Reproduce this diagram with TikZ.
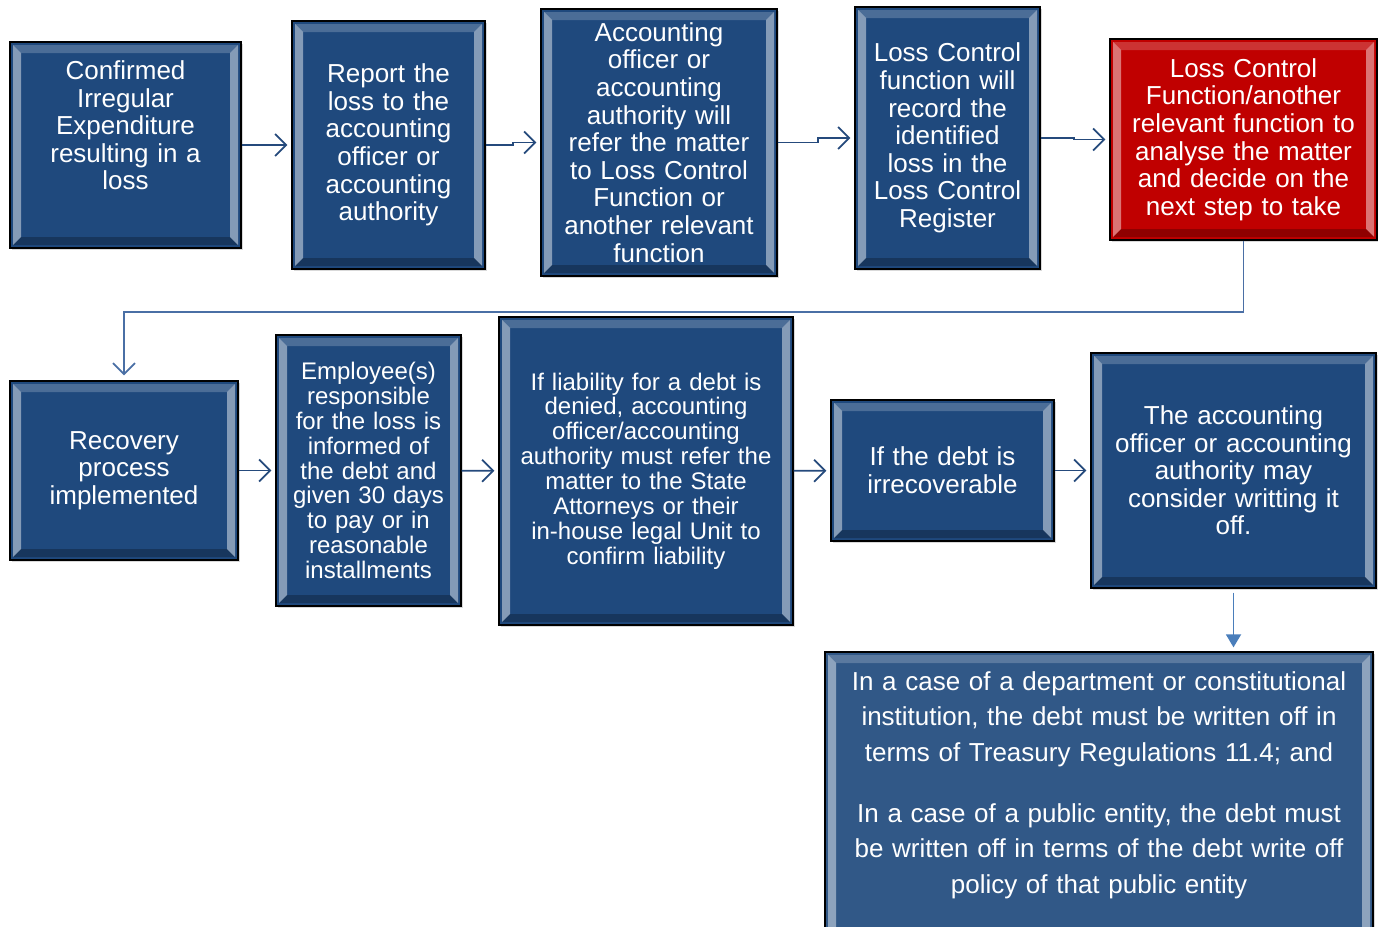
\documentclass[tikz,border=0pt]{standalone}
\usepackage{fontspec}
\setmainfont{Liberation Sans}
\usetikzlibrary{arrows.meta,shadows}
\definecolor{boxblue}{HTML}{1F497D}
\definecolor{boxred}{HTML}{C00000}
\definecolor{arrowblue}{HTML}{254A7C}
\definecolor{backblue}{HTML}{4A6FA5}
\definecolor{downblue}{HTML}{4A7EBB}

\begin{document}
\begin{tikzpicture}[x=1pt,y=-1pt]
\tikzstyle{stepbox}=[draw=black, line width=1.3pt, fill=boxblue, text=white, align=center, inner sep=0pt,
  font=\fontsize{26}{27.6}\selectfont,
  drop shadow={shadow xshift=2pt, shadow yshift=-2pt, opacity=.3},
  path picture={
    \path (path picture bounding box.south west) coordinate (sw)
          (path picture bounding box.north east) coordinate (ne)
          (sw |- ne) coordinate (nw) (sw -| ne) coordinate (se);
    \fill[white, opacity=.45] ([shift={(3pt,3pt)}]sw) -- ([shift={(11pt,11pt)}]sw)
      -- ([shift={(11pt,-11pt)}]nw) -- ([shift={(3pt,-3pt)}]nw) -- cycle;
    \fill[white, opacity=.45] ([shift={(-3pt,3pt)}]se) -- ([shift={(-11pt,11pt)}]se)
      -- ([shift={(-11pt,-11pt)}]ne) -- ([shift={(-3pt,-3pt)}]ne) -- cycle;
    \fill[white, opacity=.2] ([shift={(3pt,-3pt)}]nw) -- ([shift={(11pt,-11pt)}]nw)
      -- ([shift={(-11pt,-11pt)}]ne) -- ([shift={(-3pt,-3pt)}]ne) -- cycle;
    \fill[black, opacity=.25] ([shift={(3pt,3pt)}]sw) -- ([shift={(11pt,11pt)}]sw)
      -- ([shift={(-11pt,11pt)}]se) -- ([shift={(-3pt,3pt)}]se) -- cycle;
  }]
\tikzstyle{small}=[font=\fontsize{24}{24.9}\selectfont]
\tikzstyle{stepline}=[draw=arrowblue, line width=1.8pt, -{Straight Barb[length=11pt,width=22pt,line width=1.8pt]}, shorten >=4pt]
\tikzstyle{backline}=[draw=backblue, line width=1.8pt, -{Straight Barb[length=11pt,width=22pt,line width=1.8pt]}, shorten >=5pt]

\useasboundingbox (0,0) rectangle (1378,926);

% top row
\draw (125.5,145) node[stepbox, minimum width=231, minimum height=206, text width=220] (loss)
  {Confirmed\\Irregular\\Expenditure\\resulting in a\\loss\\[12pt]\mbox{}};
\draw (388.5,145) node[stepbox, minimum width=193, minimum height=248, text width=183] (report)
  {Report the\\loss to the\\accounting\\officer or\\accounting\\authority};
\draw (659,142.5) node[stepbox, minimum width=236, minimum height=267, text width=226] (refer)
  {Accounting\\officer or\\accounting\\authority will\\refer the matter\\to Loss Control\\Function or\\another relevant\\function};
\draw (947.5,138) node[stepbox, minimum width=185, minimum height=262, text width=178] (record)
  {Loss Control\\function will\\record the\\identified\\loss in the\\Loss Control\\Register};
\draw (1243.5,139.5) node[stepbox, fill=boxred, minimum width=267, minimum height=201, text width=257] (analyse)
  {Loss Control\\Function/another\\relevant function to\\analyse the matter\\and decide on the\\next step to take};

% second row
\draw (124,470.5) node[stepbox, minimum width=228, minimum height=179, text width=218] (recover)
  {Recovery\\process\\implemented};
\draw (368.5,470.5) node[stepbox, small, minimum width=185, minimum height=271, text width=178] (inform)
  {Employee(s)\\responsible\\for the loss is\\informed of\\the debt and\\given 30 days\\to pay or in\\reasonable\\installments};
\draw (646,471) node[stepbox, small, minimum width=294, minimum height=308, text width=284] (deny)
  {If liability for a debt is\\denied, accounting\\officer/accounting\\authority must refer the\\matter to the State\\Attorneys or their\\in-house legal Unit to\\confirm liability};
\draw (942.5,470.5) node[stepbox, minimum width=223, minimum height=141, text width=213] (irrec)
  {If the debt is\\irrecoverable};
\draw (1233.5,470.5) node[stepbox, minimum width=285, minimum height=235, text width=275] (consider)
  {The accounting\\officer or accounting\\authority may\\consider writting it\\off.};

% last box, runs off the page
\draw (1099,802) node[stepbox, font=\fontsize{26}{35.3}\selectfont, fill=boxblue!92!white, minimum width=548, minimum height=300, text width=538] (writeoff)
  {In a case of a department or constitutional\\institution, the debt must be written off in\\terms of Treasury Regulations 11.4; and\\[26pt]
   In a case of a public entity, the debt must\\be written off in terms of the debt write off\\policy of that public entity\\[3.7pt]\mbox{}};

% connectors
\draw[stepline] (loss) -- (report);
\draw[stepline] (report.east) -- ++(27pt,0) |- (refer.west);
\draw[stepline] (refer.east) -- ++(40pt,0) |- (record.west);
\draw[stepline] (record.east) -- ++(33pt,0) |- (analyse.west);
\draw[backline] (analyse.south) -- ++(0,-71pt) -| (recover.north);
\draw[stepline] (recover) -- (inform);
\draw[stepline] (inform) -- (deny);
\draw[stepline] (deny) -- (irrec);
\draw[stepline] (irrec) -- (consider);
\draw[draw=downblue, line width=1.8pt, -{Triangle[length=13pt,width=15pt]}, shorten <=4pt, shorten >=4pt]
  (consider.south) -- (consider.south |- writeoff.north);
\end{tikzpicture}
\end{document}
